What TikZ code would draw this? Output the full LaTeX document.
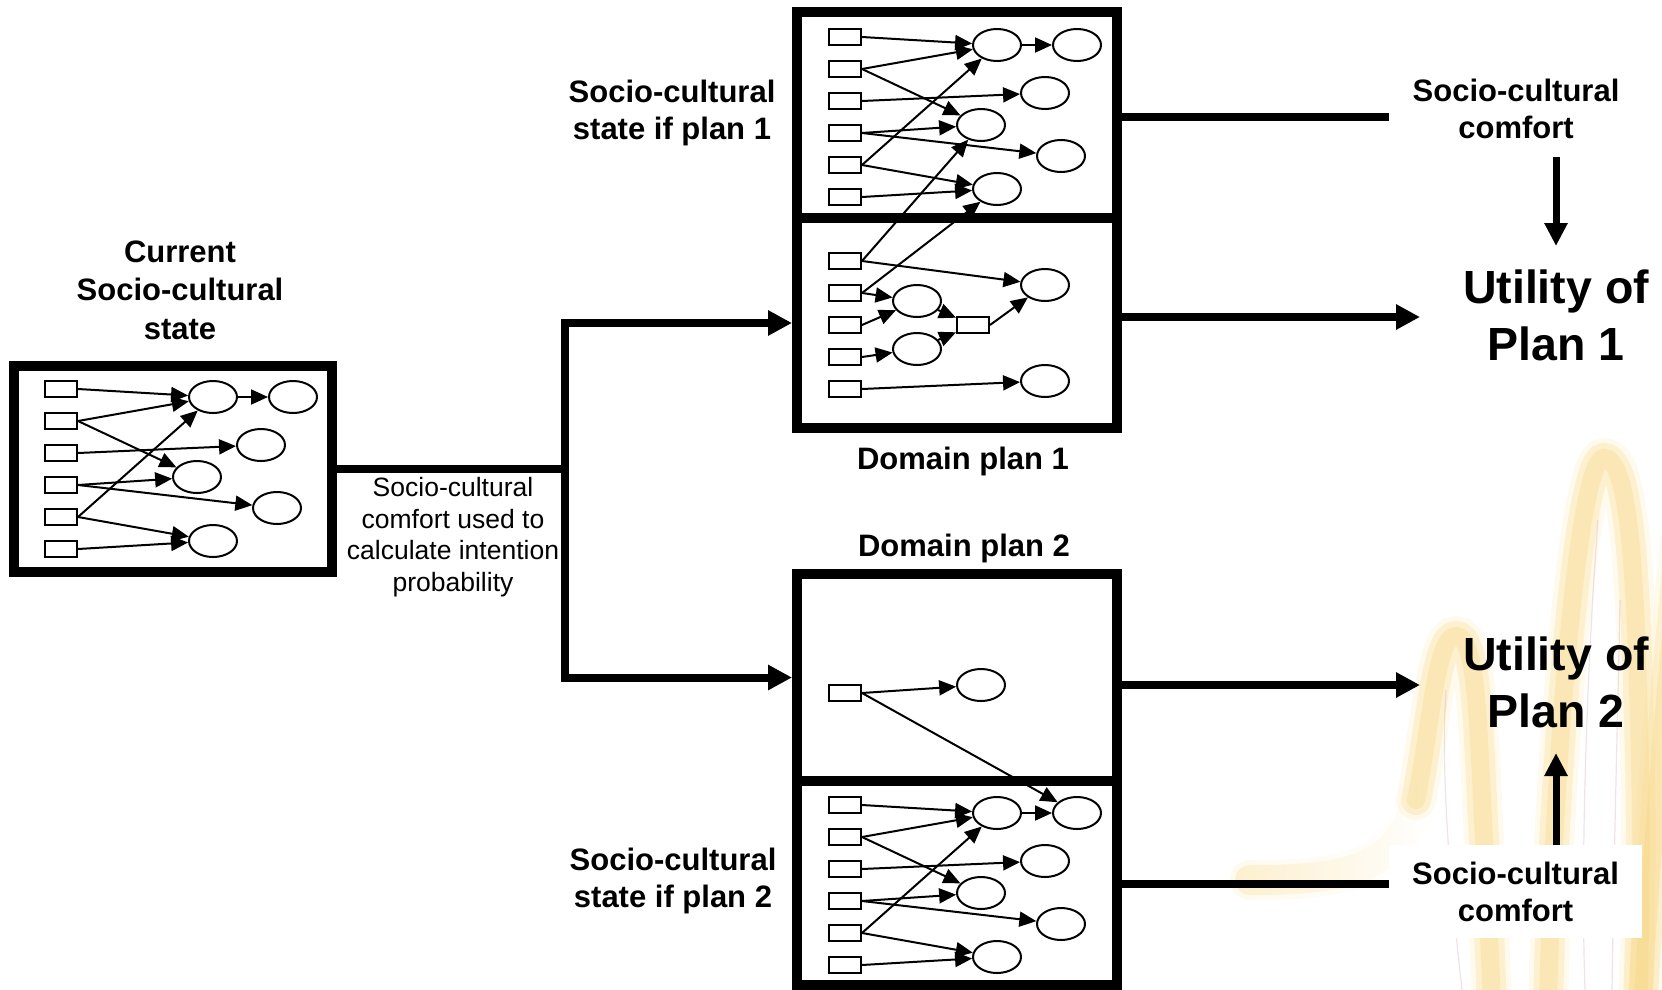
\documentclass[tikz,border=0pt]{standalone}
\usepackage{fontspec}
\setmainfont{Liberation Sans}
\usetikzlibrary{arrows.meta,shapes.geometric,fadings}

\definecolor{loopcore}{RGB}{247,212,125}
\definecolor{loopmid}{RGB}{250,226,160}
\definecolor{loophalo}{RGB}{253,242,212}
\definecolor{loopedge}{RGB}{214,170,190}

% one socio-cultural state network, origin at the first variable box
\newcommand\statenet[1]{%
  \foreach \k in {1,...,6} \node[sq] (#1r\k) at (0,{32*(\k-1)}) {};
  \node[ov] (#1e1) at (152,8) {};
  \node[ov] (#1e2) at (232,8) {};
  \node[ov] (#1e3) at (200,56) {};
  \node[ov] (#1e4) at (136,88) {};
  \node[ov] (#1e5) at (216,119) {};
  \node[ov] (#1e6) at (152,152) {};
  \draw[edge] (#1r1.east) -- (#1e1);
  \draw[edge] (#1r2.east) -- (#1e1);
  \draw[edge] (#1r2.east) -- (#1e4);
  \draw[edge] (#1r3.east) -- (#1e3);
  \draw[edge] (#1r4.east) -- (#1e4);
  \draw[edge] (#1r4.east) -- (#1e5);
  \draw[edge] (#1r5.east) -- (#1e1);
  \draw[edge] (#1r5.east) -- (#1e6);
  \draw[edge] (#1r6.east) -- (#1e6);
  \draw[edge] (#1e1) -- (#1e2);
}

% the logo strokes: the small hairpin, the tall hairpin and the edge stroke
\newcommand\loopstrokes[1]{%
  \draw[#1] (1416,800)
    .. controls (1432,720) and (1436,636) .. (1456,636)
    .. controls (1476,636) and (1478,720) .. (1482,800)
    .. controls (1486,880) and (1490,940) .. (1492,1010);
  \draw[#1] (1548,1010) .. controls (1552,800) and (1576,458) .. (1604,458)
    .. controls (1632,458) and (1636,600) .. (1640,760)
    .. controls (1642,860) and (1640,940) .. (1638,1010);
  \draw[#1] (1680,540) .. controls (1664,700) and (1652,850) .. (1642,1010);
}
\newcommand\looptail[1]{%
  \draw[#1,path fading=east] (1250,880) .. controls (1340,880) and (1400,872) .. (1416,800);
}

\begin{document}
\begin{tikzpicture}[x=1pt,y=-1pt,
  sq/.style={draw,line width=2pt,minimum width=32pt,minimum height=16pt,inner sep=0pt},
  ov/.style={draw,ellipse,line width=2pt,minimum width=48pt,minimum height=32pt,inner sep=0pt},
  edge/.style={line width=2pt,-{Triangle[length=17pt,width=15pt]}},
  frame/.style={draw,line width=10pt,inner sep=0pt},
  link/.style={line width=8pt},
  linkarrow/.style={line width=8pt,-{Triangle[length=24pt,width=24pt]}},
  vlink/.style={line width=7pt,-{Triangle[length=23pt,width=22pt]}},
  lbl/.style={font=\fontsize{31}{37}\selectfont\bfseries,align=center,inner sep=0pt},
  big/.style={font=\fontsize{46.5}{57}\selectfont\bfseries,align=center,inner sep=0pt},
  note/.style={font=\fontsize{26.5}{31.5}\selectfont,align=center,inner sep=0pt},
  halo/.style={line width=40pt,color=loophalo,opacity=0.4,line cap=round},
  midst/.style={line width=30pt,color=loopmid,opacity=0.4,line cap=round},
  core/.style={line width=18pt,color=loopcore,opacity=0.3,line cap=round},
  rim/.style={line width=1.2pt,color=loopedge,opacity=0.35},
]
\useasboundingbox (0,0) rectangle (1662,990);

% background logo, soft yellow strokes
\begin{scope}
  \clip (0,0) rectangle (1662,990);
  \foreach \s in {halo,midst,core}{\loopstrokes{\s}}
  \foreach \s in {halo,midst}{\looptail{\s}}
  \draw[rim] (1446,690) .. controls (1440,780) and (1452,900) .. (1462,990);
  \draw[rim] (1598,520) .. controls (1588,650) and (1580,850) .. (1585,990);
  \draw[rim] (1620,600) .. controls (1618,700) and (1614,850) .. (1612,990);
\end{scope}

% frames
\node[frame,minimum width=318pt,minimum height=206pt] (lb) at (173,469) {};
\node[frame,minimum width=320pt,minimum height=206pt] (p1t) at (957,115) {};
\node[frame,minimum width=320pt,minimum height=210pt] (p1b) at (957,323) {};
\node[frame,minimum width=320pt,minimum height=207pt] (p2t) at (957,677.5) {};
\node[frame,minimum width=320pt,minimum height=204pt] (p2b) at (957,883) {};

% current state network
\begin{scope}[shift={(61,389)}]
  \statenet{c}
\end{scope}
% state if plan 1
\begin{scope}[shift={(845,37)}]
  \statenet{s}
\end{scope}
% state if plan 2
\begin{scope}[shift={(845,805)}]
  \statenet{t}
\end{scope}

% domain plan 1
\foreach \k/\yy in {1/261,2/293,3/325,4/357,5/389} \node[sq] (dr\k) at (845,\yy) {};
\node[ov] (da) at (917,301) {};
\node[ov] (db) at (917,349) {};
\node[ov] (dc) at (1045,285) {};
\node[ov] (dd) at (1045,381) {};
\node[sq] (dm) at (973,325) {};
\draw[edge] (dr1.east) -- (dc);
\draw[edge] (dr2.east) -- (da);
\draw[edge] (dr3.east) -- (da);
\draw[edge] (dr4.east) -- (db);
\draw[edge] (dr5.east) -- (dd);
\draw[edge] (da) -- (dm);
\draw[edge] (db) -- (dm);
\draw[edge] (dm.east) -- (dc);
\draw[edge] (dr1.east) -- (se4);
\draw[edge] (dr2.east) -- (se6);

% domain plan 2
\node[sq] (qr) at (845,693) {};
\node[ov] (qe) at (981,685) {};
\draw[edge] (qr.east) -- (qe);
\draw[edge] (qr.east) -- (te2);

% flow from the current state to both plans
\coordinate (jn) at (565,469);
\draw[link] (lb.east) -- (jn);
\draw[linkarrow] (jn) |- (p1b.west);
\draw[linkarrow] (jn) |- (p2t.west);

% outputs of the plans
\coordinate (c1end) at (1389,117);
\coordinate (u1in) at (1420,317);
\coordinate (u2in) at (1420,685);
\coordinate (c2end) at (1389,884);
\draw[link] (p1t.east |- c1end) -- (c1end);
\draw[linkarrow] (p1b.east |- u1in) -- (u1in);
\draw[linkarrow] (p2t.east |- u2in) -- (u2in);
\draw[link] (p2b.east |- c2end) -- (c2end);

% labels
\node[lbl,font=\fontsize{31}{38.5}\selectfont\bfseries] (cur) at (180,290) {Current\\Socio-cultural\\state};
\node[lbl] (s1) at (672,113) {Socio-cultural\\state if plan 1};
\node[lbl] (s2) at (673,881) {Socio-cultural\\state if plan 2};
\node[lbl] (d1) at (963,461) {Domain plan 1};
\node[lbl] (d2) at (964,548) {Domain plan 2};
\node[note] (nt) at (453,537) {Socio-cultural\\comfort used to\\calculate intention\\probability};
\node[lbl] (sc1) at (1516,109) {Socio-cultural\\comfort};
\node[big] (ut1) at (1556,315) {Utility of\\Plan 1};
\node[big] (ut2) at (1556,682) {Utility of\\Plan 2};
\node[lbl,fill=white,minimum width=253pt,minimum height=93pt] (sc2) at (1515.5,891.5) {Socio-cultural\\comfort};

% comfort feeds the utility
\coordinate (a1s) at (1556,157);
\coordinate (a1e) at (1556,246);
\coordinate (a2s) at (1556,845);
\coordinate (a2e) at (1556,753);
\draw[vlink] (a1s) -- (a1e);
\draw[vlink] (a2s) -- (a2e);
\end{tikzpicture}
\end{document}
